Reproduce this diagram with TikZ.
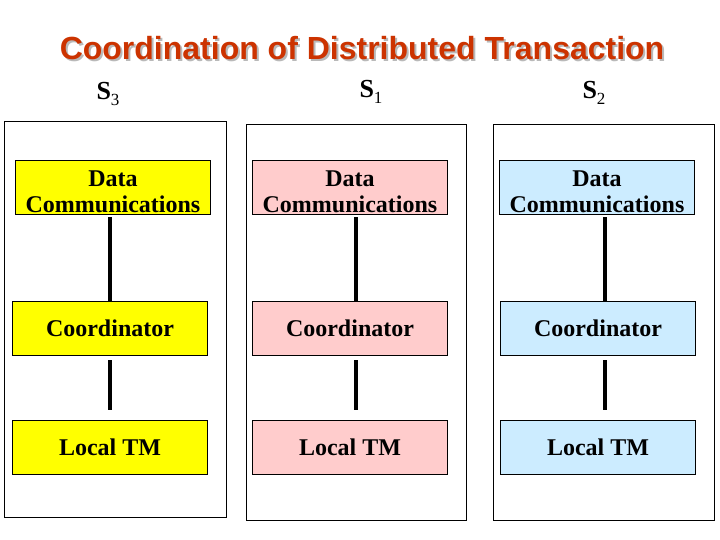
\documentclass[tikz,border=0pt]{standalone}
\usepackage{fontspec}
\setmainfont{Liberation Serif}
\newfontfamily\titlefont{Liberation Sans}
\usepackage{tikz}
\usetikzlibrary{calc,positioning}
\definecolor{titleRed}{RGB}{204,51,0}
\definecolor{titleShade}{RGB}{185,185,185}
\definecolor{boxYellow}{RGB}{255,255,0}
\definecolor{boxPink}{RGB}{255,204,204}
\definecolor{boxBlue}{RGB}{204,236,255}
\tikzset{
  unittext/.style={inner sep=0pt, align=center,
    font=\fontsize{24}{26}\selectfont\bfseries},
  unit/.style={unittext, draw=black, line width=0.9pt, minimum width=195pt, minimum height=54pt},
  link/.style={line width=4pt},
  site/.style={draw=black, line width=0.9pt},
  sitelabel/.style={font=\fontsize{26}{26}\selectfont\bfseries}
}

\begin{document}
\begin{tikzpicture}[x=1pt,y=-1pt]
    \useasboundingbox (0,0) rectangle (720,540);
    \fill[white] (0,0) rectangle (720,540);
    % title with its shadow
    \node[font=\titlefont\bfseries\fontsize{32}{36}\selectfont, text=titleShade] (titleshade) at (364,50) {Coordination of Distributed Transaction};
    \node[font=\titlefont\bfseries\fontsize{32}{36}\selectfont, text=titleRed] (title) at (362,48) {Coordination of Distributed Transaction};
    % sites
    \draw[site] (4,121) rectangle (226,517);
    \draw[site] (246,124) rectangle (466,520);
    \draw[site] (493,124) rectangle (714,520);
    \node[sitelabel] (s3) at (108,94) {S\raisebox{-6pt}{\fontsize{17}{17}\selectfont\mdseries 3}};
    \node[sitelabel] (s1) at (371,92) {S\raisebox{-6pt}{\fontsize{17}{17}\selectfont\mdseries 1}};
    \node[sitelabel] (s2) at (594,93) {S\raisebox{-6pt}{\fontsize{17}{17}\selectfont\mdseries 2}};
    \foreach \n/\cx/\dx/\fillc/\lx in {3/110/113/boxYellow/0, 1/350/350/boxPink/6, 2/598/597/boxBlue/7} {
       \node[unit, fill=\fillc] (dc\n) at (\dx,187) {};
       \node[unittext] (dctext\n) at ([yshift=-4.5pt]dc\n.center) {Data\\Communications};
       \node[unit, fill=\fillc] (co\n) at (\cx,328) {Coordinator};
       \node[unit, fill=\fillc] (tm\n) at (\cx,447) {Local TM};
       \draw[link, shorten <=3pt] ([xshift=\lx pt]co\n.north |- dc\n.south) -- ([xshift=\lx pt]co\n.north);
       \draw[link, shorten <=5pt, shorten >=10pt] ([xshift=\lx pt]co\n.south) -- ([xshift=\lx pt]tm\n.north);
     }
\end{tikzpicture}
\end{document}
